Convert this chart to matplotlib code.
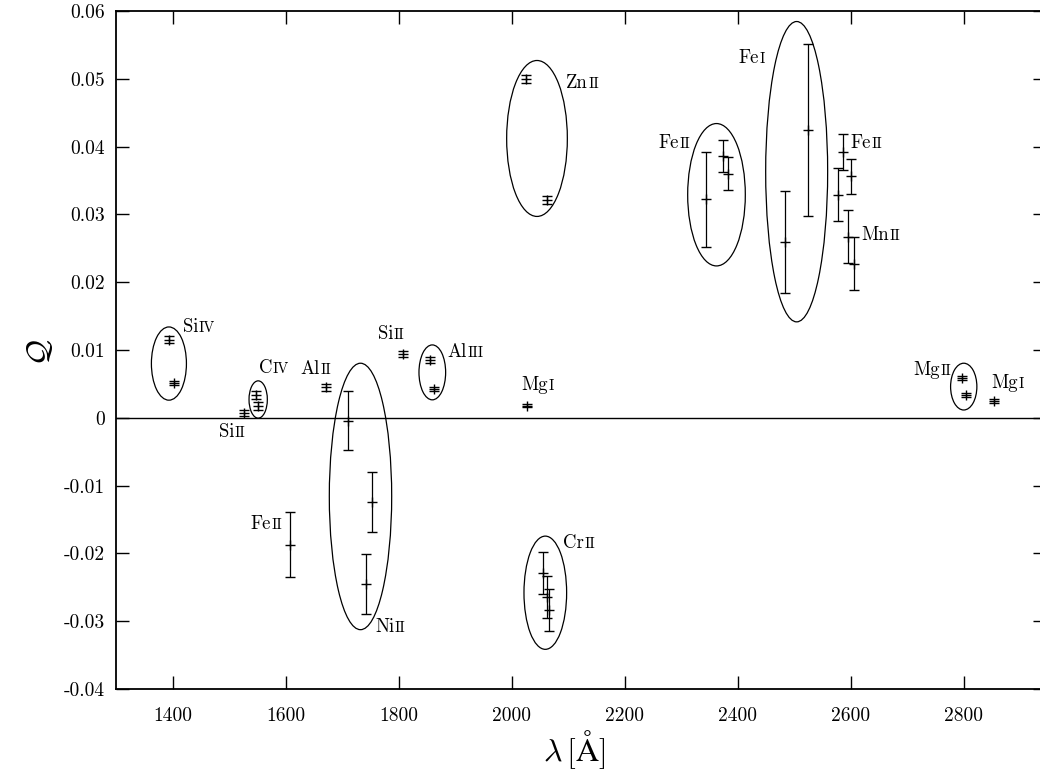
import matplotlib
matplotlib.use('Agg')
import matplotlib.pyplot as plt
from matplotlib.patches import Ellipse
from matplotlib.ticker import MultipleLocator, FuncFormatter

plt.rcParams['font.family'] = 'cmr10'
plt.rcParams['mathtext.fontset'] = 'cm'
plt.rcParams['axes.unicode_minus'] = False

# transitions: rest wavelength [A], Q and its error
wave = [1393.8, 1402.8, 1526.7, 1548.2, 1550.8, 1608.5, 1670.8,
        1709.6, 1741.6, 1751.9, 1808.0, 1854.7, 1862.8, 2026.5,
        2026.1, 2062.7, 2056.3, 2062.2, 2066.2, 2344.2, 2374.5,
        2382.8, 2484.0, 2523.6, 2576.9, 2586.7, 2594.5, 2600.2,
        2606.5, 2796.4, 2803.5, 2853.0]
q = [0.0115, 0.0051, 0.0007, 0.0034, 0.0017, -0.0187, 0.0045,
     -0.0004, -0.0245, -0.0124, 0.0094, 0.0085, 0.0042, 0.0018,
     0.0500, 0.0321, -0.0229, -0.0264, -0.0283, 0.0322, 0.0386,
     0.0360, 0.0259, 0.0424, 0.0329, 0.0392, 0.0267, 0.0356,
     0.0227, 0.0059, 0.0034, 0.0025]
q_err = [0.0005, 0.0003, 0.0004, 0.0006, 0.0006, 0.0048, 0.0005,
         0.0043, 0.0044, 0.0044, 0.0004, 0.0004, 0.0003, 0.0002,
         0.0006, 0.0006, 0.0031, 0.0031, 0.0031, 0.0070, 0.0024,
         0.0024, 0.0075, 0.0127, 0.0039, 0.0026, 0.0039, 0.0026,
         0.0039, 0.0003, 0.0003, 0.0003]

# ellipses grouping multiplets: centre x, centre y, width, height
ell_x = [1393.3, 1551.3, 1732.4, 1859.5, 2044.8, 2059.5, 2362.5, 2504.4, 2800.1]
ell_y = [0.0080, 0.0027, -0.0116, 0.0067, 0.0412, -0.0258, 0.0329, 0.0363, 0.0046]
ell_w = [62, 32.4, 110.4, 47.2, 107.4, 75.5, 102, 109.7, 46.5]
ell_h = [0.0108, 0.0055, 0.0393, 0.0081, 0.0230, 0.0167, 0.0210, 0.0443, 0.0069]

# labels: element, ionisation stage, x, y, alignment
lab_el = ['Si', 'Si', 'C', 'Al', 'Si', 'Al', 'Mg', 'Zn', 'Ni', 'Fe',
          'Cr', 'Fe', 'Fe', 'Fe', 'Mn', 'Mg', 'Mg']
lab_ion = ['IV', 'II', 'IV', 'II', 'II', 'III', 'I', 'II', 'II', 'II',
           'II', 'II', 'I', 'II', 'II', 'II', 'I']
lab_x = [1417.7, 1505, 1579, 1653.6, 1786.4, 1886, 2045.7, 2096, 1758, 1565,
         2090.3, 2315.6, 2448, 2600, 2619.5, 2778.8, 2877.5]
lab_y = [0.01265, -0.00288, 0.00656, 0.00646, 0.01162, 0.00901, 0.0041, 0.0486,
         -0.0316, -0.0164, -0.01925, 0.03984, 0.0523, 0.03984, 0.02622,
         0.00631, 0.00435]
lab_ha = ['left', 'center', 'center', 'center', 'center', 'left', 'center',
          'left', 'left', 'center', 'left', 'right', 'right', 'left', 'left',
          'right', 'center']

fig = plt.figure(figsize=(10.4, 7.81), dpi=100)
ax = fig.add_axes([116.2 / 1040, 1 - 689 / 781, (1045.6 - 116.2) / 1040, 678 / 781])

ax.errorbar(wave, q, yerr=q_err, fmt='+', color='black', ms=7, mew=1.0,
            elinewidth=0.9, capsize=3.3, capthick=0.9)

for cx, cy, w, h in zip(ell_x, ell_y, ell_w, ell_h):
    ax.add_patch(Ellipse((cx, cy), w, h, fill=False, edgecolor='black', lw=0.9))

ax.axhline(0, color='black', lw=1.0)

ax.set_xlim(1300, 2945)
ax.set_ylim(-0.04, 0.06)
ax.xaxis.set_major_locator(MultipleLocator(200))
ax.yaxis.set_major_locator(MultipleLocator(0.01))
ax.yaxis.set_major_formatter(FuncFormatter(lambda v, p: '0' if abs(v) < 1e-9 else '%.2f' % v))
ax.tick_params(direction='in', length=9.5, width=1.0, top=True, right=True,
               labelsize=14, pad=8)
ax.tick_params(axis='x', pad=13)
for s in ax.spines.values():
    s.set_linewidth(1.3)

fig.text(574 / 1040, 1 - 750 / 781, r'$\lambda\,[\mathrm{\AA}]$', fontsize=23,
         ha='center', va='center')
fig.text(40 / 1040, 1 - 352 / 781, r'$\mathcal{Q}$', fontsize=23,
         ha='center', va='center', rotation=90)

fig.canvas.draw()
renderer = fig.canvas.get_renderer()
fs_el, fs_ion = 13.5, 10.5
for el, ion, x, y, ha in zip(lab_el, lab_ion, lab_x, lab_y, lab_ha):
    t1 = ax.text(x, y, el, fontsize=fs_el, va='baseline', ha='left')
    t2 = ax.annotate(ion, xy=(x, y), xycoords='data', xytext=(0, 0),
                     textcoords='offset points', fontsize=fs_ion, va='baseline')
    w1 = t1.get_window_extent(renderer).width * 72 / fig.dpi
    w2 = t2.get_window_extent(renderer).width * 72 / fig.dpi
    total = w1 + w2 + 0.5
    shift = {'left': 0, 'center': -total / 2, 'right': -total}[ha]
    t1.set_transform(ax.transData + matplotlib.transforms.ScaledTranslation(shift / 72, 0, fig.dpi_scale_trans))
    t2.set_position((shift + w1 + 0.5, 0))

fig.savefig('out.png', dpi=100)
